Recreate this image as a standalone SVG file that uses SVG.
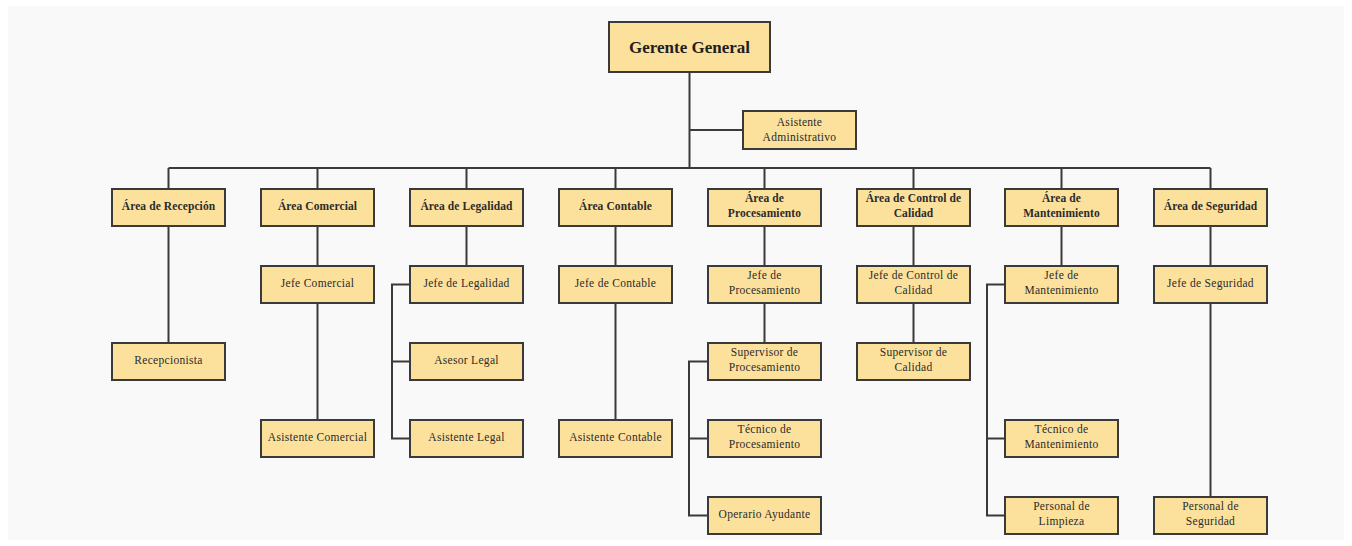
<svg xmlns="http://www.w3.org/2000/svg" width="1352" height="546" viewBox="0 0 1352 546">
  <style>
    .box { fill: #fce19c; stroke: #3a3a3a; stroke-width: 2; }
    .lbl { font-family: "Liberation Serif", "Times New Roman", serif; font-size: 11.5px; fill: #2b2b2b; text-anchor: middle; letter-spacing: 0.3px; }
    .hd { font-weight: bold; letter-spacing: 0.1px; }
    .top { font-family: "Liberation Serif", "Times New Roman", serif; font-size: 17px; font-weight: bold; fill: #1f1f1f; text-anchor: middle; }
    .wire { fill: none; stroke: #3a3a3a; stroke-width: 2; }
  </style>
  <rect width="1352" height="546" fill="#ffffff"/>
  <rect x="8" y="6" width="1336" height="534" fill="#f9f9f9"/>

  <!-- connectors -->
  <g id="connectors" class="wire">
    <path d="M689.5,72 V168"/>
    <path d="M689.5,130 H743"/>
    <path d="M168.5,168 H1210.5"/>
    <!-- drops to each area -->
    <path d="M168.5,168 V189 M317.5,168 V189 M466.5,168 V189 M615.5,168 V189 M764.5,168 V189 M913.5,168 V189 M1061.5,168 V189 M1210.5,168 V189"/>
    <!-- Recepción -->
    <path d="M168.5,226 V343"/>
    <!-- Comercial -->
    <path d="M317.5,226 V266 M317.5,303 V420"/>
    <!-- Legalidad -->
    <path d="M466.5,226 V266"/>
    <path d="M410,284.5 H392 V438.5 H410 M392,361.5 H410"/>
    <!-- Contable -->
    <path d="M615.5,226 V266 M615.5,303 V420"/>
    <!-- Procesamiento -->
    <path d="M764.5,226 V266 M764.5,303 V343"/>
    <path d="M708,361.5 H689 V515.5 H708 M689,438.5 H708"/>
    <!-- Control de Calidad -->
    <path d="M913.5,226 V266 M913.5,303 V343"/>
    <!-- Mantenimiento -->
    <path d="M1061.5,226 V266"/>
    <path d="M1005,284.5 H987 V515.5 H1005 M987,438.5 H1005"/>
    <!-- Seguridad -->
    <path d="M1210.5,226 V266 M1210.5,303 V497"/>
  </g>

  <g id="gerente-general">
    <rect class="box" x="609" y="22" width="161" height="50"/>
    <text class="top" x="689.5" y="52.5">Gerente General</text>
  </g>
  <g id="asistente-administrativo">
    <rect class="box" x="743" y="111" width="113" height="38"/>
    <text class="lbl" x="799.5" y="125.5">Asistente</text>
    <text class="lbl" x="799.5" y="140.5">Administrativo</text>
  </g>

  <!-- areas -->
  <g id="area-recepcion">
    <rect class="box" x="112" y="189" width="113" height="37"/>
    <text class="lbl hd" x="168.5" y="210">Área de Recepción</text>
  </g>
  <g id="area-comercial">
    <rect class="box" x="261" y="189" width="113" height="37"/>
    <text class="lbl hd" x="317.5" y="210">Área Comercial</text>
  </g>
  <g id="area-legalidad">
    <rect class="box" x="410" y="189" width="113" height="37"/>
    <text class="lbl hd" x="466.5" y="210">Área de Legalidad</text>
  </g>
  <g id="area-contable">
    <rect class="box" x="559" y="189" width="113" height="37"/>
    <text class="lbl hd" x="615.5" y="210">Área Contable</text>
  </g>
  <g id="area-procesamiento">
    <rect class="box" x="708" y="189" width="113" height="37"/>
    <text class="lbl hd" x="764.5" y="202">Área de</text>
    <text class="lbl hd" x="764.5" y="217">Procesamiento</text>
  </g>
  <g id="area-control-calidad">
    <rect class="box" x="857" y="189" width="113" height="37"/>
    <text class="lbl hd" x="913.5" y="202">Área de Control de</text>
    <text class="lbl hd" x="913.5" y="217">Calidad</text>
  </g>
  <g id="area-mantenimiento">
    <rect class="box" x="1005" y="189" width="113" height="37"/>
    <text class="lbl hd" x="1061.5" y="202">Área de</text>
    <text class="lbl hd" x="1061.5" y="217">Mantenimiento</text>
  </g>
  <g id="area-seguridad">
    <rect class="box" x="1154" y="189" width="113" height="37"/>
    <text class="lbl hd" x="1210.5" y="210">Área de Seguridad</text>
  </g>

  <!-- jefes -->
  <g id="jefe-comercial">
    <rect class="box" x="261" y="266" width="113" height="37"/>
    <text class="lbl" x="317.5" y="287">Jefe Comercial</text>
  </g>
  <g id="jefe-legalidad">
    <rect class="box" x="410" y="266" width="113" height="37"/>
    <text class="lbl" x="466.5" y="287">Jefe de Legalidad</text>
  </g>
  <g id="jefe-contable">
    <rect class="box" x="559" y="266" width="113" height="37"/>
    <text class="lbl" x="615.5" y="287">Jefe de Contable</text>
  </g>
  <g id="jefe-procesamiento">
    <rect class="box" x="708" y="266" width="113" height="37"/>
    <text class="lbl" x="764.5" y="279">Jefe de</text>
    <text class="lbl" x="764.5" y="294">Procesamiento</text>
  </g>
  <g id="jefe-control-calidad">
    <rect class="box" x="857" y="266" width="113" height="37"/>
    <text class="lbl" x="913.5" y="279">Jefe de Control de</text>
    <text class="lbl" x="913.5" y="294">Calidad</text>
  </g>
  <g id="jefe-mantenimiento">
    <rect class="box" x="1005" y="266" width="113" height="37"/>
    <text class="lbl" x="1061.5" y="279">Jefe de</text>
    <text class="lbl" x="1061.5" y="294">Mantenimiento</text>
  </g>
  <g id="jefe-seguridad">
    <rect class="box" x="1154" y="266" width="113" height="37"/>
    <text class="lbl" x="1210.5" y="287">Jefe de Seguridad</text>
  </g>

  <!-- third row -->
  <g id="recepcionista">
    <rect class="box" x="112" y="343" width="113" height="37"/>
    <text class="lbl" x="168.5" y="364">Recepcionista</text>
  </g>
  <g id="asesor-legal">
    <rect class="box" x="410" y="343" width="113" height="37"/>
    <text class="lbl" x="466.5" y="364">Asesor Legal</text>
  </g>
  <g id="supervisor-procesamiento">
    <rect class="box" x="708" y="343" width="113" height="37"/>
    <text class="lbl" x="764.5" y="356">Supervisor de</text>
    <text class="lbl" x="764.5" y="371">Procesamiento</text>
  </g>
  <g id="supervisor-calidad">
    <rect class="box" x="857" y="343" width="113" height="37"/>
    <text class="lbl" x="913.5" y="356">Supervisor de</text>
    <text class="lbl" x="913.5" y="371">Calidad</text>
  </g>

  <!-- fourth row -->
  <g id="asistente-comercial">
    <rect class="box" x="261" y="420" width="113" height="37"/>
    <text class="lbl" x="317.5" y="441">Asistente Comercial</text>
  </g>
  <g id="asistente-legal">
    <rect class="box" x="410" y="420" width="113" height="37"/>
    <text class="lbl" x="466.5" y="441">Asistente Legal</text>
  </g>
  <g id="asistente-contable">
    <rect class="box" x="559" y="420" width="113" height="37"/>
    <text class="lbl" x="615.5" y="441">Asistente Contable</text>
  </g>
  <g id="tecnico-procesamiento">
    <rect class="box" x="708" y="420" width="113" height="37"/>
    <text class="lbl" x="764.5" y="433">Técnico de</text>
    <text class="lbl" x="764.5" y="448">Procesamiento</text>
  </g>
  <g id="tecnico-mantenimiento">
    <rect class="box" x="1005" y="420" width="113" height="37"/>
    <text class="lbl" x="1061.5" y="433">Técnico de</text>
    <text class="lbl" x="1061.5" y="448">Mantenimiento</text>
  </g>

  <!-- fifth row -->
  <g id="operario-ayudante">
    <rect class="box" x="708" y="497" width="113" height="37"/>
    <text class="lbl" x="764.5" y="518">Operario Ayudante</text>
  </g>
  <g id="personal-limpieza">
    <rect class="box" x="1005" y="497" width="113" height="37"/>
    <text class="lbl" x="1061.5" y="510">Personal de</text>
    <text class="lbl" x="1061.5" y="525">Limpieza</text>
  </g>
  <g id="personal-seguridad">
    <rect class="box" x="1154" y="497" width="113" height="37"/>
    <text class="lbl" x="1210.5" y="510">Personal de</text>
    <text class="lbl" x="1210.5" y="525">Seguridad</text>
  </g>
</svg>
